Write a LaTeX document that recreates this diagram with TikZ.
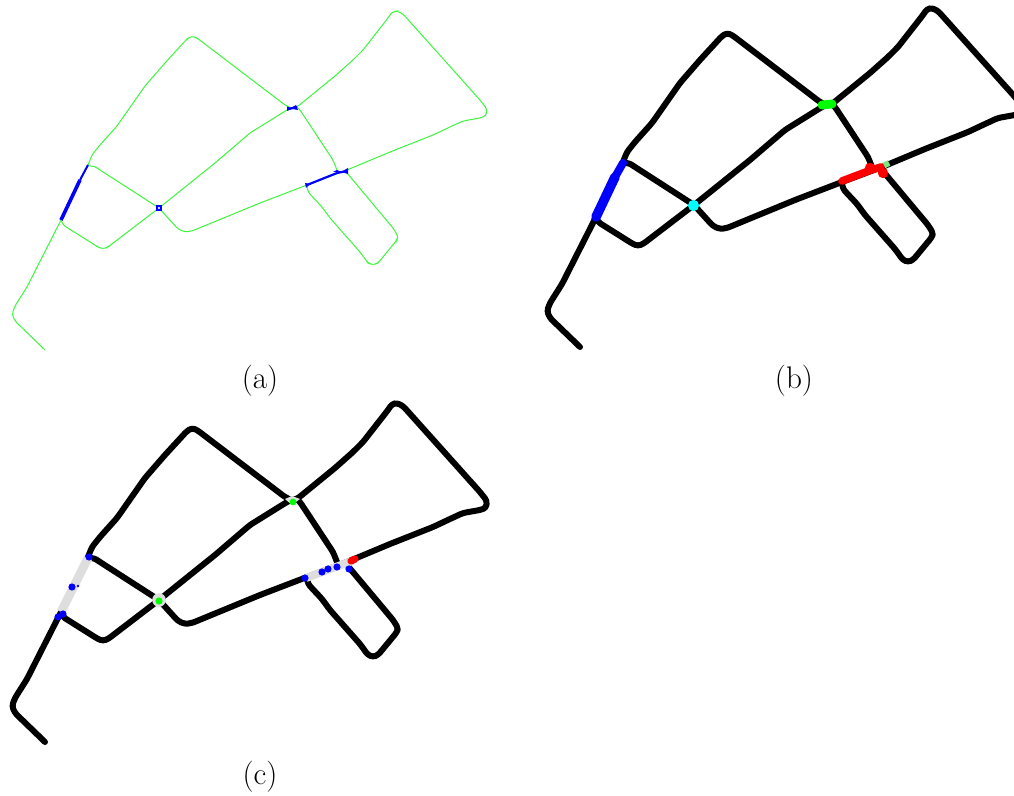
\documentclass[tikz,border=0pt]{standalone}
\usepackage{tikz}
\definecolor{nodecyan}{rgb}{0,1,1}
\definecolor{softgreen}{rgb}{0.5,0.9,0.5}
\newcommand{\roadnet}[1]{%
\draw[#1] (61,220)--(27,287)--(15,306)--(12,314)--(15,321)--(45,350);
\draw[#1] (61,220)--(88,165)--(92,155)--(100,145)--(117,126)--(145,86)--(165,63)--(187,39)--(192,36)--(197,38)--(285,105)--(291,108);
\draw[#1] (291,108)--(297,107)--(335,76)--(353,60)--(363,50)--(388,18)--(392,12)--(397,11)--(403,14)--(480,100)--(487,109)--(486,116)--(480,118)--(463,121)--(450,127)--(433,135)--(390,152)--(347,170);
\draw[#1] (297,107)--(300,110)--(333,160)--(337,170);
\draw[#1] (347,170)--(307,185)--(260,203)--(192,231)--(185,232)--(178,229)--(159,208);
\draw[#1] (159,208)--(215,163)--(250,133)--(287,110)--(291,108);
\draw[#1] (159,208)--(100,170)--(94,166)--(88,166);
\draw[#1] (159,208)--(108,247)--(103,249)--(98,247)--(63,225)--(61,220);
\draw[#1] (307,185)--(308,192)--(322,207)--(330,218)--(360,252)--(368,263)--(373,265)--(378,263)--(397,240)--(398,236)--(393,228)--(347,173);
}
\begin{document}
\begin{tikzpicture}[x=0.5pt,y=-0.5pt,
thin road/.style={draw={rgb,255:red,60;green,245;blue,60},line width=0.5pt,rounded corners=1.5pt},
thick road/.style={draw=black,line width=3pt,line cap=round,line join=round,rounded corners=1.5pt},
seg/.style={line width=#1,line cap=round},
dotmark/.style={circle,inner sep=0pt,minimum size=3.6pt,fill=blue},
caption label/.style={font=\fontsize{15.6}{18}\selectfont,inner sep=0pt}]
\useasboundingbox (0,0) rectangle (1014,796);
% panel a
\roadnet{thin road}
\draw[blue,line width=1.8pt] (61,220)--(80,180);
\draw[blue,line width=1pt] (80,180)--(88,165);
\draw[blue,line width=1.1pt] (307,185)--(337,173)--(347,171);
\draw[blue,line width=1.1pt] (288,109)--(297,107);
\fill[blue] (287,106.5)--(291,108)--(296,105)--(298,110)--(292,109)--(287,111)--cycle;
\fill[blue] (333,172)--(337,170)--(341,172)--cycle (341,172)--(348,168)--(348,174)--cycle (305,183)--(310,184)--(306,188)--cycle;
\draw[blue,line width=0.8pt,fill=blue!20] (157,206) rectangle (161,210);
\node[caption label] (capa) at (260,381) {(a)};
% panel b
\begin{scope}[shift={(535,-3)}]
\roadnet{thick road}
\draw[blue,seg=4.8pt] (61,220)--(80,180);
\draw[blue,seg=4pt] (80,180)--(88,166);
\draw[green,seg=4.4pt] (287,108)--(297,107);
\fill[green] (285,104)--(292,106)--(299,103)--(296,110)--(289,110)--(285,112)--cycle;
\fill[nodecyan] (158.5,208.5) circle (2.8pt);
\draw[red,seg=3.8pt] (307,184)--(336,173)--(346,170);
\fill[red] (335,171) circle (2.6pt) (348,176) circle (2.6pt);
\draw[softgreen,line width=3pt] (349,168.5)--(354,166);
\end{scope}
\node[caption label] (capb) at (794,381) {(b)};
% panel c
\begin{scope}[shift={(0,392)}]
\roadnet{thick road}
\draw[black!13,line width=4.4pt] (61,220)--(88,166);
\draw[black!13,line width=4pt] (306,186)--(352,169);
\fill[black!13] (285,107)--(292,104)--(300,107)--(292,113)--cycle;
\fill[black!13] (159,208) circle (3.4pt);
\fill[green] (159,209) circle (1.8pt);
\fill[green] (293,110) circle (1.7pt);
\foreach \px/\py [count=\i] in {89/165,72/195,63/222,58/225,305/186,322/180,328/177,337/175,349/177}
  \node[dotmark] (pt\i) at (\px,\py) {};
\fill[blue] (78,194) circle (0.7pt);
\draw[red,seg=3.6pt] (351,169)--(355,167);
\end{scope}
\node[caption label] (capc) at (260,777) {(c)};
\end{tikzpicture}
\end{document}
